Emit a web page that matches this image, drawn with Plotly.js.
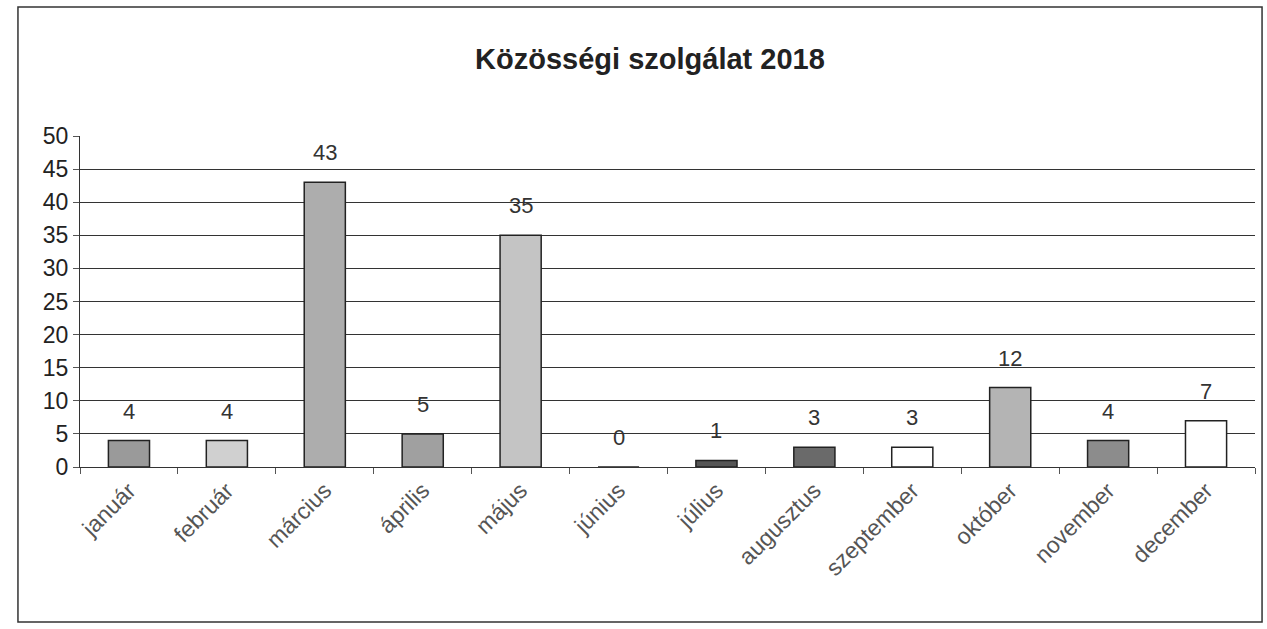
<!DOCTYPE html>
<html>
<head>
<meta charset="utf-8">
<script src="https://cdn.plot.ly/plotly-3.0.1.min.js"></script>
<style>
html,body{margin:0;padding:0;background:#fff;}
#chart{width:1267px;height:629px;}
</style>
</head>
<body>
<div id="chart"></div>
<script>
const months = ["január","február","március","április","május","június","július","augusztus","szeptember","október","november","december"];
const values = [4,4,43,5,35,0,1,3,3,12,4,7];
const barColors = ["#9a9a9a","#d0d0d0","#adadad","#a0a0a0","#c4c4c4","#ffffff","#555555","#6a6a6a","#ffffff","#b4b4b4","#8c8c8c","#ffffff"];
const titleText = "Közösségi szolgálat 2018";

const trace = {
  type: "bar",
  x: months,
  y: values,
  marker: {color: barColors, line: {color: "#222", width: 1.5}},
  hoverinfo: "x+y"
};

const annotations = months.map((m, i) => ({
  x: m, y: values[i], xref: "x", yref: "y",
  text: String(values[i]), showarrow: false,
  yanchor: "bottom", yshift: 15,
  font: {family: "Liberation Sans, Arial, sans-serif", size: 22, color: "#333"}
}));

const layout = {
  width: 1267, height: 629,
  paper_bgcolor: "#ffffff", plot_bgcolor: "#ffffff",
  margin: {l: 80, r: 12, t: 136, b: 162},
  title: {text: "<b>" + titleText + "</b>", x: 0.513, xanchor: "center", y: 0.907, yanchor: "middle",
    font: {family: "Liberation Sans, Arial, sans-serif", size: 29, color: "#222"}},
  bargap: 0.58,
  showlegend: false,
  xaxis: {
    type: "category",
    tickangle: -45,
    tickfont: {family: "Liberation Sans, Arial, sans-serif", size: 23, color: "#555"},
    showline: true, linecolor: "#333", linewidth: 1,
    ticks: "outside", tickson: "boundaries", ticklen: 6, tickcolor: "#555",
    showgrid: false, zeroline: false
  },
  yaxis: {
    range: [0, 50], dtick: 5,
    tickfont: {family: "Liberation Sans, Arial, sans-serif", size: 23, color: "#222"},
    showline: true, linecolor: "#333", linewidth: 1,
    ticks: "outside", ticklen: 6, tickcolor: "#555",
    showgrid: true, gridcolor: "#333", gridwidth: 1,
    zeroline: false
  },
  annotations: annotations,
  shapes: [{
    type: "rect", xref: "paper", yref: "paper",
    x0: -0.0528, x1: 1.006, y0: -0.468, y1: 1.39,
    line: {color: "#333", width: 1.5}, fillcolor: "rgba(0,0,0,0)"
  }]
};

Plotly.newPlot("chart", [trace], layout, {displayModeBar: false, staticPlot: true});
</script>
</body>
</html>
